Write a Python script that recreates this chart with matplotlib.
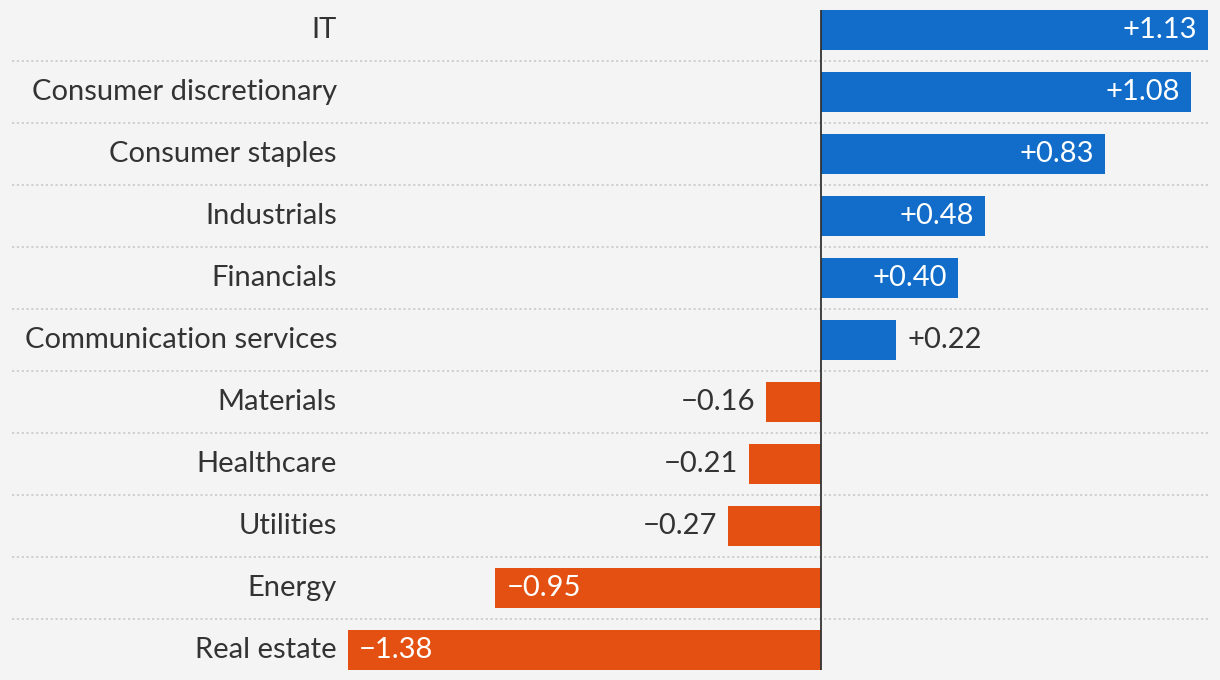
import matplotlib
matplotlib.use("Agg")
import matplotlib.pyplot as plt
from matplotlib.transforms import offset_copy

plt.rcParams['font.family'] = ['Lato', 'DejaVu Sans']

# sector changes, top to bottom
sectors = ["IT", "Consumer discretionary", "Consumer staples", "Industrials",
           "Financials", "Communication services", "Materials", "Healthcare",
           "Utilities", "Energy", "Real estate"]
changes = [1.13, 1.08, 0.83, 0.48, 0.40, 0.22, -0.16, -0.21, -0.27, -0.95, -1.38]

BLUE = "#116dc9"
ORANGE = "#e35011"
BG = "#f4f4f4"
TEXT = "#333333"
FS = 21
BAR_H = 0.645
INSIDE_MIN = 0.3   # bars shorter than this get the label outside

fig = plt.figure(figsize=(12.2, 6.8), dpi=100, facecolor=BG)
W, H = 1220, 680
ax = fig.add_axes([348 / W, 10 / H, (1208 - 348) / W, 660 / H])
ax.set_facecolor(BG)

ypos = list(range(len(sectors)))
colors = [BLUE if v >= 0 else ORANGE for v in changes]
ax.barh(ypos, changes, height=BAR_H, color=colors, zorder=2)

ax.set_xlim(min(changes), max(changes))
ax.set_ylim(len(sectors) - 1 + BAR_H / 2, -BAR_H / 2)

# category labels as tick labels
ax.set_yticks(ypos)
ax.set_yticklabels(sectors, fontsize=FS, color=TEXT, va='center')
ax.tick_params(axis='y', length=0, pad=8)
ax.set_xticks([])
for s in ax.spines.values():
    s.set_visible(False)
for lab in ax.get_yticklabels():
    lab.set_y(lab.get_position()[1])

# dotted row separators
left_frac = (12 - 348) / (1208 - 348)
for i in range(len(sectors) - 1):
    ax.plot([left_frac, 1.0], [i + 0.5, i + 0.5], transform=ax.get_yaxis_transform(),
            color="#c9c9c9", lw=1.2, linestyle=(0, (1.3, 1.6)), clip_on=False, zorder=1)

# zero line
ax.axvline(0, color=TEXT, lw=1.3, zorder=3)

# value labels
pad = 8  # points
for y, v in zip(ypos, changes):
    txt = f"+{v:.2f}" if v >= 0 else f"\u2212{abs(v):.2f}"
    inside = abs(v) >= INSIDE_MIN
    if v >= 0:
        if inside:
            tr = offset_copy(ax.transData, fig=fig, x=-pad, y=0, units='points')
            ax.text(v, y, txt, ha='right', va='center', color='white', fontsize=FS, transform=tr, zorder=4)
        else:
            tr = offset_copy(ax.transData, fig=fig, x=pad, y=0, units='points')
            ax.text(v, y, txt, ha='left', va='center', color=TEXT, fontsize=FS, transform=tr, zorder=4)
    else:
        if inside:
            tr = offset_copy(ax.transData, fig=fig, x=pad, y=0, units='points')
            ax.text(v, y, txt, ha='left', va='center', color='white', fontsize=FS, transform=tr, zorder=4)
        else:
            tr = offset_copy(ax.transData, fig=fig, x=-pad, y=0, units='points')
            ax.text(v, y, txt, ha='right', va='center', color=TEXT, fontsize=FS, transform=tr, zorder=4)

fig.savefig("out.png", dpi=100, facecolor=BG)
